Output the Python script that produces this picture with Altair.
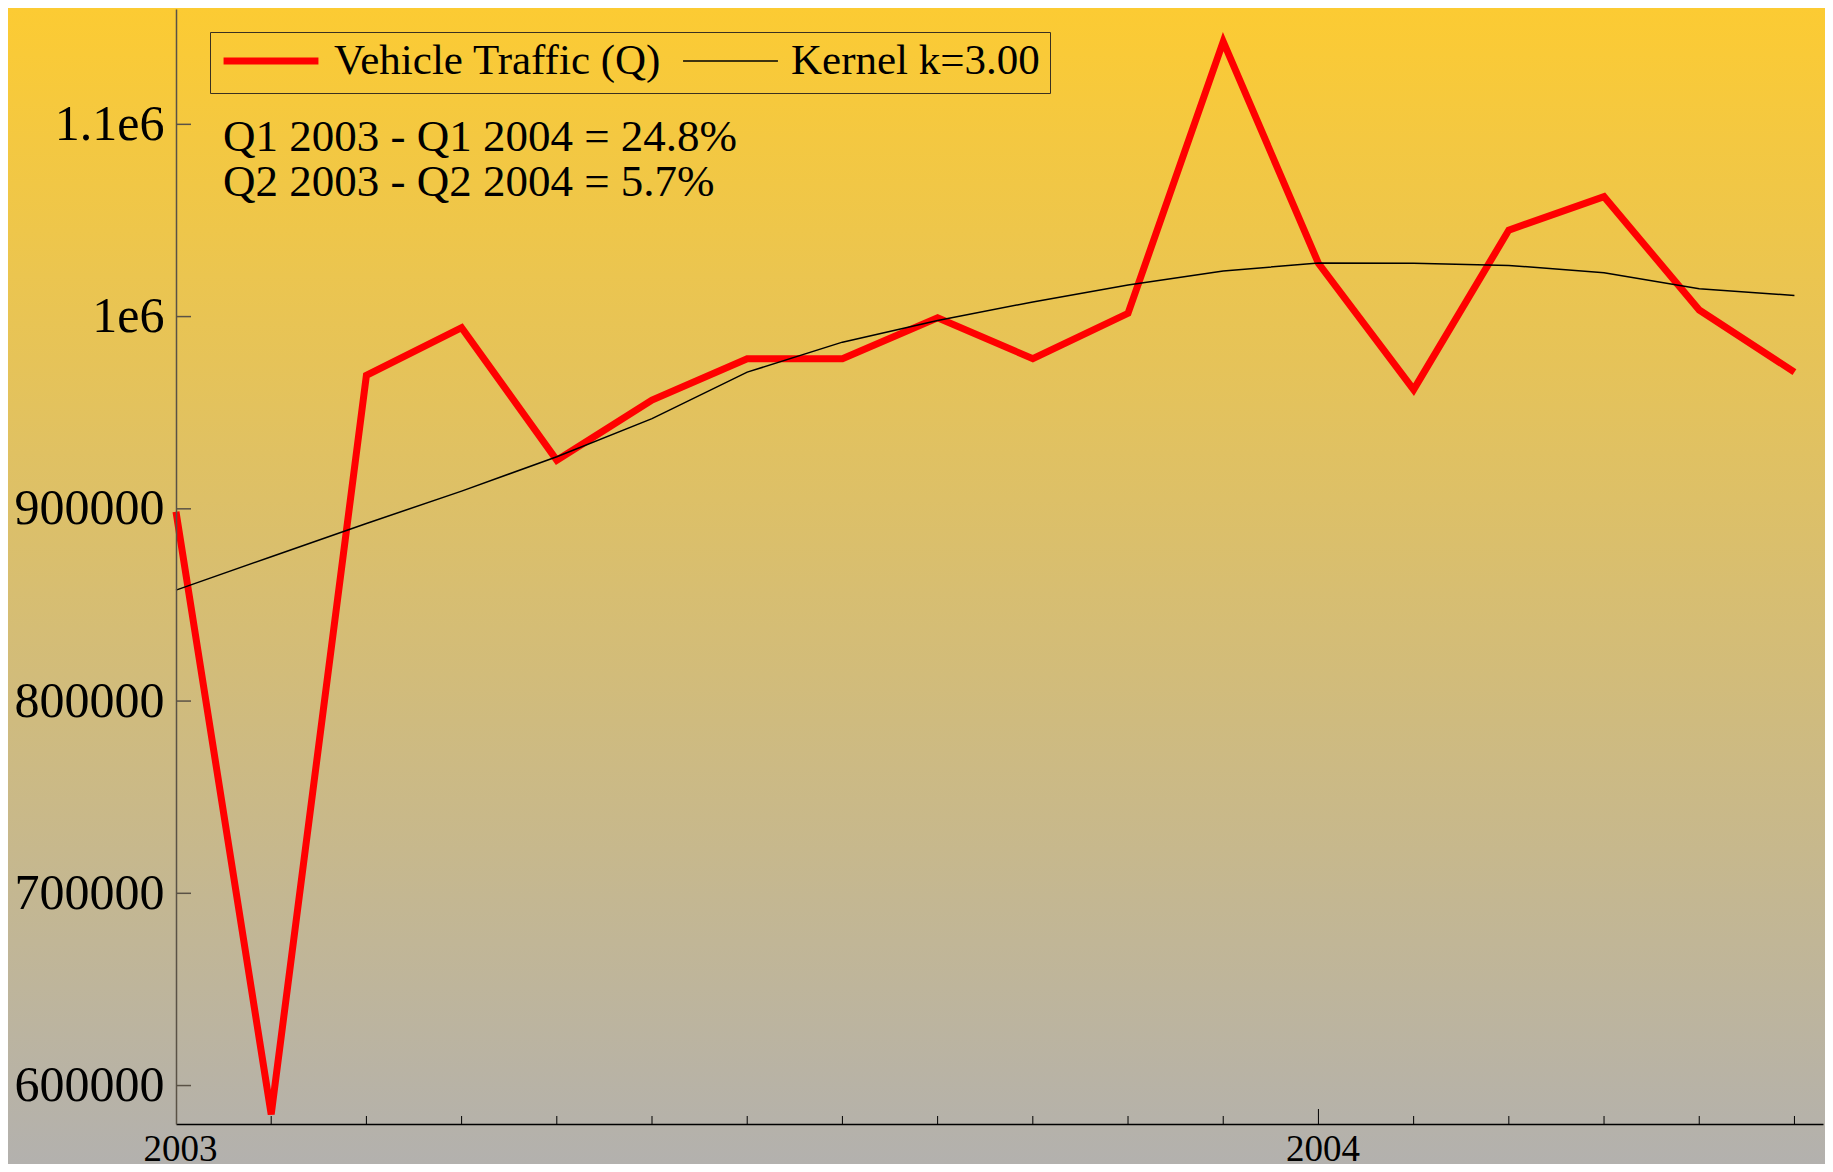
import altair as alt
import pandas as pd

# ---- data ----
months = list(range(18))
traffic = [898500, 585000, 969400, 994200, 925300, 956600, 978100, 978100, 999400,
           978100, 1001700, 1143000, 1027700, 962000, 1045000, 1062400, 1003400, 971100]
kernel = [857700, 875100, 892400, 909200, 927100, 946900, 971100, 986700, 998000,
          1007600, 1016400, 1023700, 1027900, 1027800, 1026600, 1022800, 1014500, 1011000]
series_names = ["Vehicle Traffic (Q)", "Kernel k=3.00"]
series_colors = ["#ff0000", "#000000"]
series_widths = [7, 1.5]
y_tick_values = [600000, 700000, 800000, 900000, 1000000, 1100000]
y_tick_labels = ["600000", "700000", "800000", "900000", "1e6", "1.1e6"]
x_label_values = [0, 12]
x_label_texts = ["2003", "2004"]
minor_x_ticks = [m for m in range(1, 18) if m != 12]
major_x_ticks = [12]
annotations = ["Q1 2003 - Q1 2004 = 24.8%", "Q2 2003 - Q2 2004 = 5.7%"]

W, H = 1647, 1115
FONT = "Liberation Serif"

x_scale = alt.Scale(domain=[0, 17.3], nice=False, zero=False)
y_scale = alt.Scale(domain=[580000, 1160000], nice=False, zero=False)

traffic_df = pd.DataFrame({"month": months, "value": traffic, "series": series_names[0]})
kernel_df = pd.DataFrame({"month": months, "value": kernel, "series": series_names[1]})

y_label_expr = " : ".join(
    f"datum.value == {v} ? '{t}'" for v, t in zip(y_tick_values, y_tick_labels)
) + " : ''"
x_label_expr = " : ".join(
    f"datum.value == {v} ? '{t}'" for v, t in zip(x_label_values, x_label_texts)
) + " : ''"

# background gradient
bg = alt.Chart(pd.DataFrame({"a": [0]})).mark_rect(
    color=alt.Gradient(
        gradient="linear",
        stops=[alt.GradientStop(color="#fccb33", offset=0),
               alt.GradientStop(color="#b3b1ae", offset=1)],
        x1=0, x2=0, y1=0, y2=1,
    )
).encode(x=alt.value(-168), x2=alt.value(W + 2), y=alt.value(-1), y2=alt.value(H + 40))

legend = alt.Legend(
    orient="none", legendX=34, legendY=23, direction="horizontal",
    symbolType="stroke", symbolSize=9000, clipHeight=38, padding=10,
    strokeColor="#3a3020", labelFont=FONT, labelFontSize=43, labelColor="black",
    labelOffset=12, columnPadding=20, symbolOffset=0, labelLimit=800, title=None,
)
color_scale = alt.Scale(domain=series_names, range=series_colors)
width_scale = alt.Scale(domain=series_names, range=series_widths)

x_enc = alt.X("month:Q", scale=x_scale, axis=alt.Axis(
    values=x_label_values, labelExpr=x_label_expr, ticks=False, tickSize=0,
    grid=False, domainColor="black", domainWidth=1.5, labelFont=FONT,
    labelFontSize=37, labelColor="black", labelPadding=7, labelFlush=False,
    labelOffset=4, title=None, zindex=2))
y_enc = alt.Y("value:Q", scale=y_scale, axis=alt.Axis(
    values=y_tick_values, labelExpr=y_label_expr, ticks=False, tickSize=0,
    grid=False, domainColor="#5a5246", domainWidth=1.5, labelFont=FONT,
    labelFontSize=50, labelColor="black", labelPadding=12, title=None, zindex=2))

color_enc = alt.Color("series:N", scale=color_scale, legend=legend)
width_enc = alt.StrokeWidth("series:N", scale=width_scale, legend=legend)

red_line = alt.Chart(traffic_df).mark_line(strokeJoin="miter").encode(
    x=x_enc, y=y_enc, color=color_enc, strokeWidth=width_enc,
)
black_line = alt.Chart(kernel_df).mark_line().encode(
    x=alt.X("month:Q", scale=x_scale),
    y=alt.Y("value:Q", scale=y_scale),
    color=color_enc, strokeWidth=width_enc,
)

# inward ticks
y_ticks = alt.Chart(pd.DataFrame({"value": y_tick_values})).mark_rule(
    color="#5a5246", strokeWidth=1.5
).encode(y=alt.Y("value:Q", scale=y_scale), x=alt.value(0), x2=alt.value(15))
x_minor = alt.Chart(pd.DataFrame({"month": minor_x_ticks})).mark_rule(
    color="black", strokeWidth=1
).encode(x=alt.X("month:Q", scale=x_scale), y=alt.value(H), y2=alt.value(H - 8))
x_major = alt.Chart(pd.DataFrame({"month": major_x_ticks})).mark_rule(
    color="black", strokeWidth=1
).encode(x=alt.X("month:Q", scale=x_scale), y=alt.value(H), y2=alt.value(H - 15))

texts = []
for i, line in enumerate(annotations):
    texts.append(
        alt.Chart(pd.DataFrame({"t": [line]})).mark_text(
            font=FONT, fontSize=45, color="black", align="left", baseline="alphabetic"
        ).encode(x=alt.value(47), y=alt.value(141.5 + i * 45.6), text="t:N")
    )

chart = alt.layer(bg, y_ticks, x_minor, x_major, red_line, black_line, *texts).properties(
    width=W, height=H,
    padding={"left": 168, "top": 1, "right": 2, "bottom": 40},
    autosize=alt.AutoSizeParams(type="none"),
    background="#b3b1ae",
).configure_view(stroke=None)

chart.save("out.html", embed_options={"renderer": "svg", "actions": False})
